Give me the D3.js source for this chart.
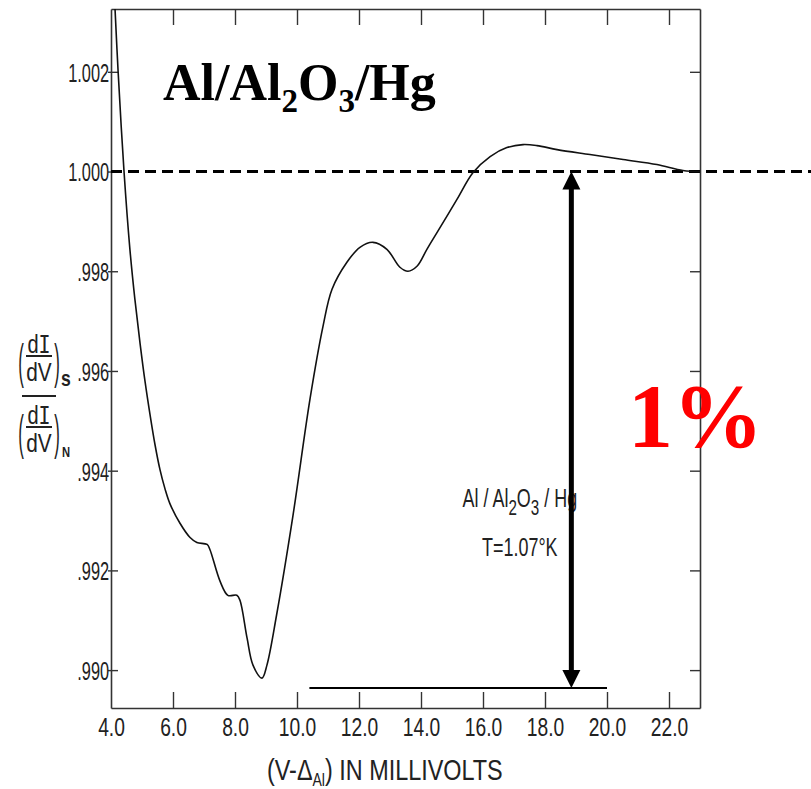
<!DOCTYPE html>
<html><head><meta charset="utf-8">
<script src="https://cdn.jsdelivr.net/npm/d3@7"></script>
<style>
html,body{margin:0;padding:0;background:#fff;}
svg{display:block;}
</style></head>
<body>
<svg id="chart" width="811" height="789"></svg>
<script>
// ---------- data ----------
const xTicks = [4, 6, 8, 10, 12, 14, 16, 18, 20, 22];
const xTickLabels = ["4.0","6.0","8.0","10.0","12.0","14.0","16.0","18.0","20.0","22.0"];
const yTicks = [0.990, 0.992, 0.994, 0.996, 0.998, 1.000, 1.002];
const yTickLabels = [".990",".992",".994",".996",".998","1.000","1.002"];

// measured curve (V - Δ_Al in mV, normalized conductance)
const curveX = [4.13, 4.23, 4.42, 4.61, 4.77, 4.94, 5.10, 5.26, 5.42, 5.58, 5.74, 5.90, 6.23, 6.55, 6.77, 7.10, 7.19, 7.52, 7.77, 8.06, 8.16, 8.39, 8.58, 8.87, 9.03, 9.34, 9.87, 10.42, 10.84, 11.13, 11.61, 12.03, 12.45, 12.90, 13.32, 13.58, 13.87, 14.19, 14.52, 15.16, 15.68, 16.23, 16.77, 17.29, 17.74, 18.39, 19.45, 20.52, 21.61, 22.45, 23.00];
const curveY = [1.00326, 1.00200, 1.00000, 0.99844, 0.99744, 0.99654, 0.99578, 0.99512, 0.99452, 0.99402, 0.99364, 0.99334, 0.99294, 0.99266, 0.99256, 0.99252, 0.99242, 0.99178, 0.99150, 0.99150, 0.99140, 0.99064, 0.99010, 0.98984, 0.99010, 0.99110, 0.99310, 0.99544, 0.99690, 0.99764, 0.99818, 0.99848, 0.99858, 0.99844, 0.99808, 0.99800, 0.99810, 0.99844, 0.99878, 0.99944, 0.99998, 1.00030, 1.00048, 1.00054, 1.00052, 1.00044, 1.00034, 1.00024, 1.00014, 1.00002, 1.00000];

const refLineX = [4, 26.6];       // dashed reference at 1.000
const refLineY = 1.000;
const arrowX = 18.85;             // double arrow showing 1%
const arrowY = [1.000, 0.98964];
const baseLineX = [10.4, 20.0];   // horizontal base line
const baseLineY = 0.98964;

const titleParts = ["Al/Al", "2", "O", "3", "/Hg"];
const bigLabel = "1%";
const innerLine1 = ["Al / Al", "2", "O", "3", " / Hg"];
const innerLine2 = "T=1.07°K";

// ---------- scales ----------
const svg = d3.select("#chart");
const x = d3.scaleLinear().domain([4, 23]).range([111, 700]);
const y = d3.scaleLinear().domain([0.98924, 1.00326]).range([708, 9]);

const axisColor = "#333";
const lblFont = "'Liberation Sans', Arial, sans-serif";

// ---------- axes ----------
function styleAxis(g){
  g.selectAll(".domain").attr("stroke", axisColor).attr("stroke-width", 1.6);
  g.selectAll(".tick line").attr("stroke", axisColor).attr("stroke-width", 1.4);
}
const gBottom = svg.append("g").attr("transform", `translate(0,${y.range()[0]})`)
  .call(d3.axisBottom(x).tickValues(xTicks).tickSizeInner(-16).tickSizeOuter(0)
    .tickFormat((d,i) => xTickLabels[i]));
styleAxis(gBottom);
gBottom.selectAll(".tick text").attr("y", 28).attr("dy", 0)
  .attr("font-family", lblFont).attr("font-size", 26).attr("fill", "#222")
  .attr("transform", "scale(0.74,1)");
gBottom.selectAll(".tick").filter(d => d === 4).select("line").remove();

const gTop = svg.append("g").attr("transform", `translate(0,${y.range()[1]})`)
  .call(d3.axisTop(x).tickValues(xTicks).tickSizeInner(-16).tickSizeOuter(0).tickFormat(""));
styleAxis(gTop);
gTop.selectAll(".tick").filter(d => d === 4).select("line").remove();

const gLeft = svg.append("g").attr("transform", `translate(${x.range()[0]},0)`)
  .call(d3.axisLeft(y).tickValues(yTicks).tickSizeInner(-7).tickSizeOuter(0).tickPadding(3)
    .tickFormat((d,i) => yTickLabels[i]));
styleAxis(gLeft);
gLeft.selectAll(".tick line").attr("x1", -3);
gLeft.selectAll(".tick text").attr("dy", "0.36em")
  .attr("font-family", lblFont).attr("font-size", 26).attr("fill", "#222")
  .attr("transform", "scale(0.63,1)");

const gRight = svg.append("g").attr("transform", `translate(${x.range()[1]},0)`)
  .call(d3.axisRight(y).tickValues(yTicks).tickSizeInner(-10).tickSizeOuter(0).tickFormat(""));
styleAxis(gRight);

// ---------- dashed reference line ----------
svg.append("line")
  .attr("x1", x(refLineX[0])).attr("x2", x(refLineX[1]))
  .attr("y1", y(refLineY)).attr("y2", y(refLineY))
  .attr("stroke", "#000").attr("stroke-width", 3).attr("stroke-dasharray", "11,6");

// ---------- curve ----------
const pts = curveX.map((v,i) => [v, curveY[i]]);
svg.append("path").datum(pts)
  .attr("fill", "none").attr("stroke", "#111").attr("stroke-width", 1.6)
  .attr("d", d3.line().x(d => x(d[0])).y(d => y(d[1])).curve(d3.curveCatmullRom.alpha(0.5)));

// ---------- base line ----------
svg.append("line")
  .attr("x1", x(baseLineX[0])).attr("x2", x(baseLineX[1]))
  .attr("y1", y(baseLineY)).attr("y2", y(baseLineY))
  .attr("stroke", "#000").attr("stroke-width", 2);

// ---------- inner annotation ----------
const innerFont = "'Liberation Sans', Arial, sans-serif";
const t1 = svg.append("text")
  .attr("transform", `translate(${x(15.34)},${y(0.99328)}) scale(0.69,1)`)
  .attr("font-family", innerFont).attr("font-size", 26).attr("fill", "#222");
t1.append("tspan").text(innerLine1[0]);
t1.append("tspan").attr("dy", 8).attr("font-size", 22).text(innerLine1[1]);
t1.append("tspan").attr("dy", -8).attr("font-size", 26).text(innerLine1[2]);
t1.append("tspan").attr("dy", 8).attr("font-size", 22).text(innerLine1[3]);
t1.append("tspan").attr("dy", -8).attr("font-size", 26).text(innerLine1[4]);

svg.append("text")
  .attr("transform", `translate(${x(15.97)},${y(0.99228)}) scale(0.69,1)`)
  .attr("font-family", innerFont).attr("font-size", 26).attr("fill", "#222")
  .text(innerLine2);

// ---------- double arrow ----------
const ax = x(arrowX), ayTop = y(arrowY[0]), ayBot = y(arrowY[1]);
const ah = 18, aw = 9;
svg.append("line").attr("x1", ax).attr("x2", ax)
  .attr("y1", ayTop + ah - 2).attr("y2", ayBot - ah + 2)
  .attr("stroke", "#000").attr("stroke-width", 5);
svg.append("path").attr("fill", "#000")
  .attr("d", `M${ax},${ayTop} L${ax-aw},${ayTop+ah} L${ax+aw},${ayTop+ah} Z`);
svg.append("path").attr("fill", "#000")
  .attr("d", `M${ax},${ayBot} L${ax-aw},${ayBot-ah} L${ax+aw},${ayBot-ah} Z`);

// ---------- title ----------
const serif = "'Liberation Serif', 'Times New Roman', serif";
const tt = svg.append("text").attr("x", 163).attr("y", 100)
  .attr("font-family", serif).attr("font-weight", "bold").attr("font-size", 52).attr("fill", "#000");
tt.append("tspan").text(titleParts[0]);
tt.append("tspan").attr("dy", 12).attr("font-size", 33).text(titleParts[1]);
tt.append("tspan").attr("dy", -12).attr("font-size", 52).text(titleParts[2]);
tt.append("tspan").attr("dy", 12).attr("font-size", 33).text(titleParts[3]);
tt.append("tspan").attr("dy", -12).attr("font-size", 52).text(titleParts[4]);

// ---------- 1% ----------
svg.append("text").attr("x", 628).attr("y", 447)
  .attr("font-family", serif).attr("font-weight", "bold").attr("font-size", 90)
  .attr("fill", "#ff0000").text(bigLabel);

// ---------- x axis title ----------
const xt = svg.append("text")
  .attr("transform", "translate(267,780) scale(0.78,1)")
  .attr("font-family", lblFont).attr("font-size", 30).attr("fill", "#222");
xt.append("tspan").text("(V-Δ");
xt.append("tspan").attr("dy", 6).attr("font-size", 18).text("Al");
xt.append("tspan").attr("dy", -6).attr("font-size", 30).text(")  IN  MILLIVOLTS");

// ---------- y axis label (stacked fraction) ----------
const yl = svg.append("g").attr("font-family", lblFont).attr("fill", "#222");
const mono = "'DejaVu Sans Mono', monospace";
function frac(cx, top, sub){
  const g = yl.append("g");
  const dI = g.append("text").attr("transform", `translate(${cx},${top+18}) scale(0.8,1)`)
    .attr("text-anchor", "middle").attr("font-size", 25);
  dI.append("tspan").text("d");
  dI.append("tspan").attr("font-family", mono).text("I");
  g.append("line").attr("x1", cx-13).attr("x2", cx+13).attr("y1", top+21).attr("y2", top+21)
    .attr("stroke", "#222").attr("stroke-width", 2);
  g.append("text").attr("transform", `translate(${cx},${top+46}) scale(0.8,1)`)
    .attr("text-anchor", "middle").attr("font-size", 26).text("dV");
  g.append("text").attr("transform", `translate(${cx-18},${top+43}) scale(0.7,2)`)
    .attr("text-anchor", "middle").attr("font-size", 24).text("(");
  g.append("text").attr("transform", `translate(${cx+18},${top+43}) scale(0.7,2)`)
    .attr("text-anchor", "middle").attr("font-size", 24).text(")");
  g.append("text").attr("transform", `translate(${cx+27},${top+51}) scale(0.8,1)`)
    .attr("text-anchor", "middle").attr("font-size", sub === "s" ? 22 : 14)
    .attr("font-weight", "bold").text(sub);
}
frac(39, 335, "s");
yl.append("line").attr("x1", 22).attr("x2", 56).attr("y1", 396).attr("y2", 396)
  .attr("stroke", "#222").attr("stroke-width", 2.2);
frac(39, 406, "N");
</script>
</body></html>
